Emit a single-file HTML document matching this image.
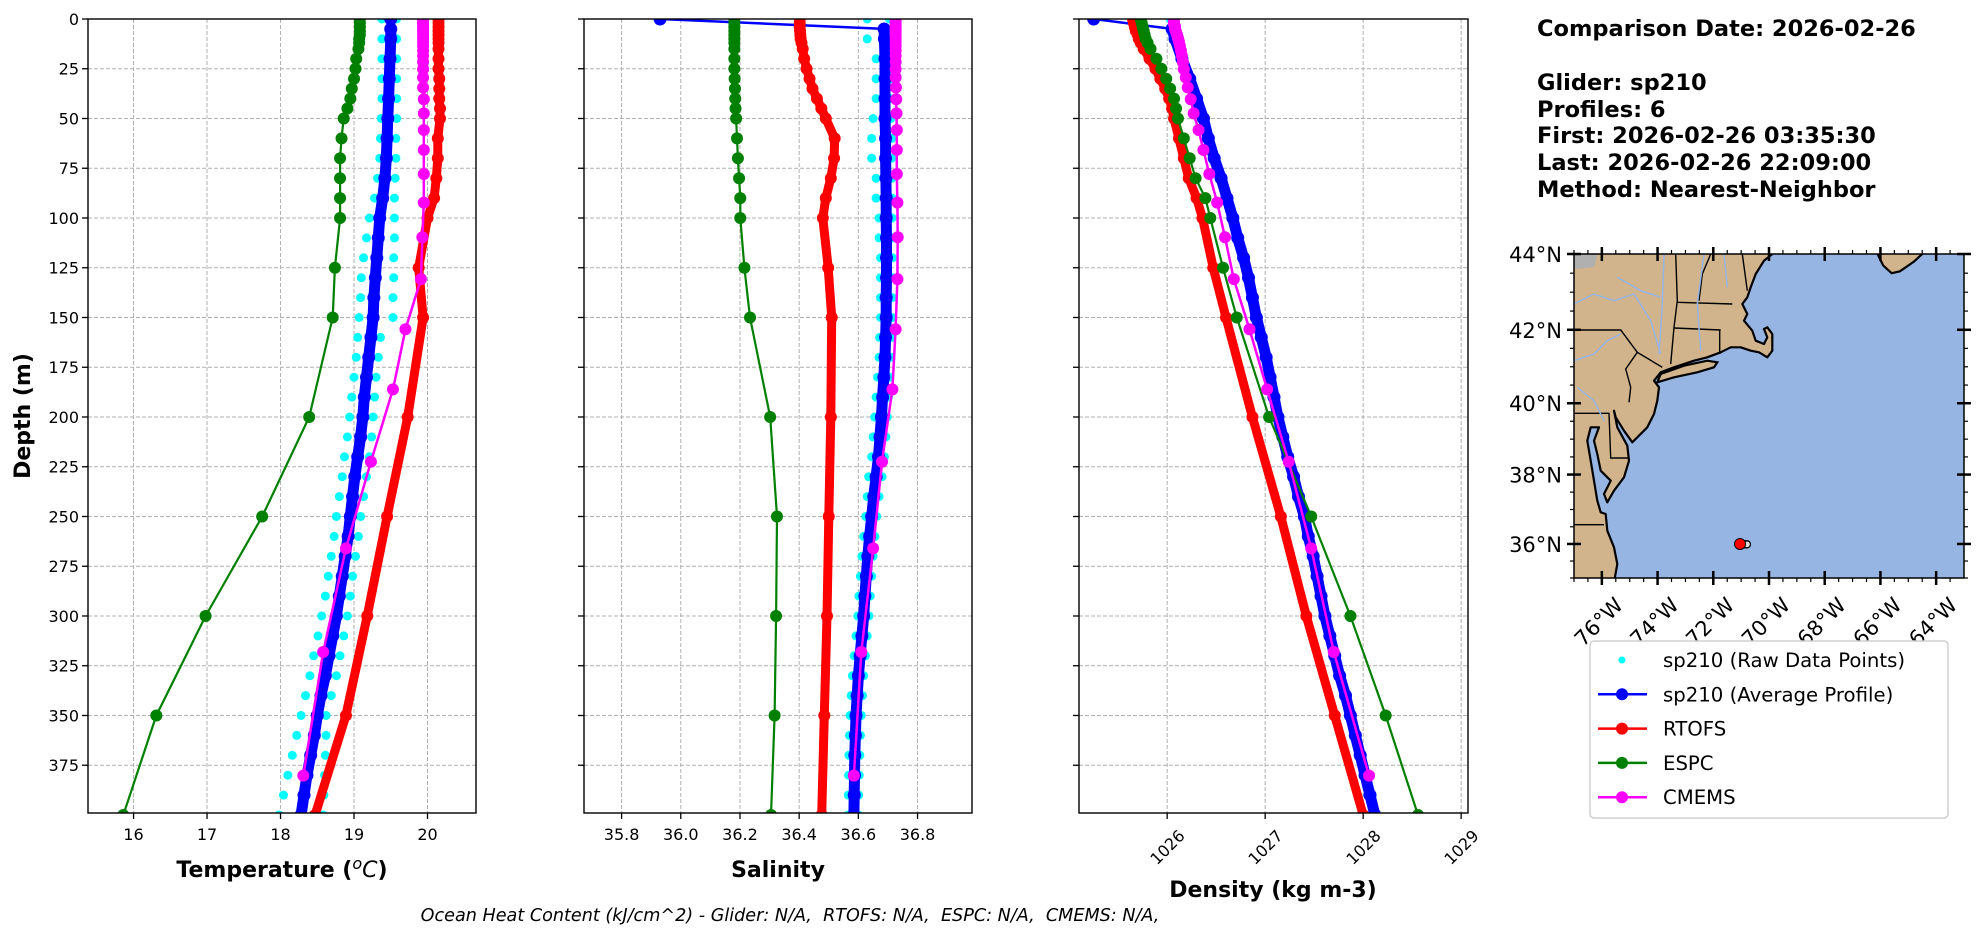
<!DOCTYPE html>
<html><head><meta charset="utf-8"><style>
html,body{margin:0;padding:0;background:#fff;}
svg{display:block;font-family:"DejaVu Sans","Liberation Sans",sans-serif;}
</style></head><body>
<svg id="fig" width="1979" height="934" viewBox="0 0 1979 934" xmlns="http://www.w3.org/2000/svg">
<defs>
<clipPath id="c0"><rect x="88" y="19" width="388" height="794"/></clipPath>
<clipPath id="c1"><rect x="584" y="19" width="388" height="794"/></clipPath>
<clipPath id="c2"><rect x="1079" y="19" width="389" height="794"/></clipPath>
<clipPath id="cm"><rect x="1574" y="254" width="390" height="324"/></clipPath>
</defs>
<g id="layer"></g>
<text x="0" y="0" transform="translate(30,416) rotate(-90)" text-anchor="middle" font-size="22" font-weight="bold">Depth (m)</text>
<text x="282" y="877" text-anchor="middle" font-size="22" font-weight="bold">Temperature (<tspan font-style="italic" font-weight="normal" dy="-8" font-size="16">o</tspan><tspan dy="8" font-style="italic" font-weight="normal">C</tspan>)</text>
<text x="778" y="877" text-anchor="middle" font-size="22" font-weight="bold">Salinity</text>
<text x="1273" y="897" text-anchor="middle" font-size="22" font-weight="bold">Density (kg m-3)</text>
<text x="790" y="921" text-anchor="middle" font-size="17.6" font-style="italic" style="white-space:pre">Ocean Heat Content (kJ/cm^2) - Glider: N/A,  RTOFS: N/A,  ESPC: N/A,  CMEMS: N/A,</text>
<g font-size="22.5" font-weight="bold">
<text x="1537" y="36">Comparison Date: 2026-02-26</text>
<text x="1537" y="90">Glider: sp210</text>
<text x="1537" y="117">Profiles: 6</text>
<text x="1537" y="143">First: 2026-02-26 03:35:30</text>
<text x="1537" y="170">Last: 2026-02-26 22:09:00</text>
<text x="1537" y="197">Method: Nearest-Neighbor</text>
</g>
</svg>
<script>
// ---------- data ----------
const gliderDepth=[0,5,10,20,30,40,50,60,70,80,90,100,110,120,130,140,150,160,170,180,190,200,210,220,230,240,250,260,270,280,290,300,310,320,330,340,350,360,370,380,390,400];
const gliderTemp=[19.50,19.50,19.50,19.49,19.48,19.47,19.46,19.45,19.44,19.42,19.39,19.35,19.33,19.31,19.29,19.27,19.26,19.23,19.20,19.17,19.14,19.12,19.09,19.05,19.01,18.98,18.95,18.92,18.88,18.84,18.80,18.76,18.71,18.66,18.61,18.55,18.50,18.46,18.41,18.36,18.32,18.28];
const gliderSal=[35.93,36.687,36.688,36.69,36.69,36.69,36.69,36.692,36.692,36.693,36.694,36.694,36.695,36.695,36.695,36.694,36.694,36.692,36.69,36.686,36.682,36.678,36.673,36.668,36.66,36.652,36.645,36.638,36.632,36.627,36.622,36.618,36.612,36.606,36.6,36.596,36.592,36.59,36.588,36.587,36.586,36.585];
const gliderDens=[1025.25,1026.05,1026.08,1026.15,1026.23,1026.30,1026.37,1026.42,1026.48,1026.55,1026.61,1026.67,1026.72,1026.78,1026.83,1026.87,1026.91,1026.96,1027.01,1027.05,1027.09,1027.13,1027.18,1027.23,1027.29,1027.34,1027.40,1027.44,1027.49,1027.53,1027.57,1027.61,1027.66,1027.71,1027.76,1027.82,1027.87,1027.92,1027.97,1028.02,1028.07,1028.12];
const rawDepth=[0,10,20,30,40,50,60,70,80,90,100,110,120,130,140,150,160,170,180,190,200,210,220,230,240,250,260,270,280,290,300,310,320,330,340,350,360,370,380,390,400];
const rawTempA=[19.38,19.38,19.38,19.38,19.38,19.37,19.36,19.35,19.32,19.28,19.21,19.17,19.13,19.10,19.09,19.07,19.05,19.03,19.00,18.97,18.94,18.91,18.87,18.84,18.80,18.76,18.73,18.69,18.65,18.61,18.56,18.51,18.45,18.40,18.34,18.28,18.22,18.16,18.10,18.04,17.98];
const rawTempB=[19.58,19.58,19.58,19.58,19.58,19.58,19.57,19.57,19.56,19.55,19.55,19.55,19.54,19.54,19.53,19.53,19.36,19.33,19.30,19.28,19.26,19.24,19.21,19.17,19.13,19.09,19.06,19.02,18.98,18.95,18.91,18.86,18.81,18.76,18.69,18.62,18.62,18.61,18.60,18.59,18.58];
const rawSalA=[36.63,36.63,36.66,36.66,36.66,36.65,36.645,36.645,36.66,36.66,36.67,36.67,36.675,36.675,36.675,36.675,36.672,36.67,36.665,36.66,36.655,36.65,36.645,36.635,36.63,36.625,36.618,36.612,36.607,36.602,36.598,36.592,36.586,36.58,36.576,36.572,36.57,36.568,36.567,36.566,36.565];
const rawSalB=[36.705,36.707,36.71,36.71,36.71,36.71,36.712,36.712,36.713,36.714,36.714,36.715,36.715,36.715,36.714,36.714,36.712,36.71,36.706,36.702,36.698,36.693,36.688,36.68,36.67,36.662,36.656,36.65,36.645,36.64,36.636,36.63,36.624,36.618,36.614,36.61,36.607,36.605,36.603,36.601,36.6];
const rawDensA=[1026.03,1026.06,1026.13,1026.21,1026.28,1026.35,1026.40,1026.46,1026.53,1026.59,1026.65,1026.70,1026.76,1026.81,1026.85,1026.89,1026.94,1026.99,1027.03,1027.07,1027.11,1027.16,1027.21,1027.27,1027.32,1027.38,1027.42,1027.47,1027.51,1027.55,1027.59,1027.64,1027.69,1027.74,1027.80,1027.85,1027.90,1027.95,1028.00,1028.05,1028.10];
const rawDensB=[1026.07,1026.10,1026.17,1026.25,1026.32,1026.39,1026.44,1026.50,1026.57,1026.63,1026.69,1026.74,1026.80,1026.85,1026.89,1026.93,1026.98,1027.03,1027.07,1027.11,1027.15,1027.20,1027.25,1027.31,1027.36,1027.42,1027.46,1027.51,1027.55,1027.59,1027.63,1027.68,1027.73,1027.78,1027.84,1027.89,1027.94,1027.99,1028.04,1028.09,1028.14];
const modelDepth=[0,2,4,6,8,10,12,15,20,25,30,35,40,45,50,60,70,80,90,100,125,150,200,250,300,350,400];
const rtofsTemp=[20.15,20.15,20.15,20.15,20.15,20.15,20.15,20.15,20.15,20.15,20.16,20.16,20.16,20.17,20.17,20.14,20.14,20.12,20.09,20.00,19.88,19.94,19.73,19.45,19.18,18.89,18.47];
const rtofsSal=[36.402,36.402,36.402,36.403,36.404,36.405,36.408,36.412,36.417,36.425,36.435,36.445,36.46,36.475,36.49,36.52,36.518,36.507,36.49,36.48,36.498,36.51,36.507,36.50,36.494,36.485,36.476];
const rtofsDens=[1025.65,1025.66,1025.67,1025.68,1025.70,1025.71,1025.73,1025.76,1025.82,1025.88,1025.93,1025.98,1026.02,1026.05,1026.07,1026.12,1026.17,1026.22,1026.30,1026.36,1026.47,1026.60,1026.87,1027.16,1027.42,1027.71,1028.00];
const espcTemp=[19.08,19.08,19.08,19.08,19.08,19.07,19.07,19.06,19.03,19.02,19.00,18.97,18.95,18.91,18.86,18.83,18.81,18.81,18.81,18.81,18.74,18.71,18.39,17.75,16.98,16.31,15.86];
const espcSal=[36.181,36.181,36.181,36.181,36.181,36.181,36.181,36.181,36.181,36.181,36.182,36.183,36.184,36.185,36.187,36.19,36.193,36.197,36.201,36.201,36.215,36.234,36.302,36.325,36.322,36.317,36.305];
const espcDens=[1025.73,1025.74,1025.75,1025.76,1025.77,1025.78,1025.80,1025.83,1025.89,1025.94,1025.99,1026.03,1026.07,1026.09,1026.11,1026.17,1026.23,1026.29,1026.39,1026.44,1026.57,1026.71,1027.04,1027.47,1027.87,1028.23,1028.56];
const cmemsDepth=[0.5,1.5,2.6,3.8,5.1,6.4,7.9,9.6,11.4,13.5,15.8,18.5,21.6,25.2,29.4,34.4,40.3,47.4,55.8,65.8,77.9,92.3,109.7,130.7,155.9,186.1,222.5,266.0,318.1,380.2];
const cmemsTemp=[19.94,19.94,19.94,19.94,19.94,19.94,19.94,19.94,19.94,19.94,19.94,19.94,19.94,19.94,19.94,19.94,19.95,19.95,19.95,19.95,19.95,19.95,19.93,19.91,19.70,19.53,19.23,18.89,18.58,18.31];
const cmemsSal=[36.726,36.726,36.726,36.726,36.726,36.726,36.726,36.726,36.726,36.726,36.726,36.726,36.726,36.726,36.726,36.727,36.728,36.729,36.73,36.73,36.73,36.732,36.733,36.732,36.726,36.715,36.68,36.65,36.61,36.585];
const cmemsDens=[1026.07,1026.07,1026.07,1026.08,1026.08,1026.09,1026.10,1026.11,1026.12,1026.13,1026.14,1026.15,1026.16,1026.17,1026.19,1026.21,1026.24,1026.27,1026.32,1026.37,1026.43,1026.51,1026.59,1026.68,1026.84,1027.02,1027.24,1027.47,1027.70,1028.06];
const depthTicks=[0,25,50,75,100,125,150,175,200,225,250,275,300,325,350,375];
const tempTicks=[16,17,18,19,20];
const salTicks=[35.8,36.0,36.2,36.4,36.6,36.8];
const salTickLabels=["35.8","36.0","36.2","36.4","36.6","36.8"];
const densTicks=[1026,1027,1028,1029];
const latTicks=[44,42,40,38,36];
const lonTicks=[-76,-74,-72,-70,-68,-66,-64];
const gliderTrackLon=[-71.04,-70.94,-70.88,-70.83,-70.79];
const gliderTrackLat=[36.0,35.99,35.99,35.99,35.99];

// ---------- helpers ----------
const NS="http://www.w3.org/2000/svg";
const layer=document.getElementById('layer');
function mk(tag,attrs,parent){const e=document.createElementNS(NS,tag);for(const k in attrs)e.setAttribute(k,attrs[k]);(parent||layer).appendChild(e);return e;}
const Y0=19,Y1=813,DMAX=399;
function yDepth(d){return Y0+d/DMAX*(Y1-Y0);}
const panels=[
 {name:'temperature',x0:88,x1:476,min:15.38,max:20.66,clip:'c0'},
 {name:'salinity',x0:584,x1:972,min:35.673,max:36.984,clip:'c1'},
 {name:'density',x0:1079,x1:1468,min:1025.10,max:1029.07,clip:'c2'}];
function xs(p,v){return p.x0+(v-p.min)/(p.max-p.min)*(p.x1-p.x0);}

panels.forEach((p,pi)=>{
  const g=mk('g',{});
  
  
  const ticks=pi===0?tempTicks:pi===1?salTicks:densTicks;
  ticks.forEach(t=>{const l=mk('line',{x1:xs(p,t),x2:xs(p,t),y1:Y0,y2:Y1,stroke:'#b0b0b0','stroke-width':1,'stroke-dasharray':'4,2'},g);
    
    });
  depthTicks.forEach(t=>{const l=mk('line',{x1:p.x0,x2:p.x1,y1:yDepth(t),y2:yDepth(t),stroke:'#b0b0b0','stroke-width':1,'stroke-dasharray':'4,2'},g);
    
    });
  depthTicks.forEach(t=>{
    const tk=mk('line',{x1:p.x0-6,x2:p.x0,y1:yDepth(t),y2:yDepth(t),stroke:'#000','stroke-width':1.3},g);
    
    
    if(pi===0){const tx=mk('text',{x:p.x0-9,y:yDepth(t)+6,'text-anchor':'end','font-size':16},g);tx.textContent=String(t);
      
      }
  });
  ticks.forEach((t,i)=>{
    const x=xs(p,t);
    const tk=mk('line',{x1:x,x2:x,y1:Y1,y2:Y1+6,stroke:'#000','stroke-width':1.3},g);
    
    
    let tx;
    if(pi===2){tx=mk('text',{x:0,y:0,'text-anchor':'middle','font-size':16,transform:`translate(${x},${Y1+34}) rotate(-45) translate(0,6)`},g);}
    else{tx=mk('text',{x:x,y:Y1+27,'text-anchor':'middle','font-size':16},g);}
    tx.textContent=pi===1?salTickLabels[i]:String(t);
    
    
  });
  const sg=mk('g',{'clip-path':`url(#${p.clip})`},g);
  
  
  const rawA=pi===0?rawTempA:pi===1?rawSalA:rawDensA;
  const rawB=pi===0?rawTempB:pi===1?rawSalB:rawDensB;
  [rawA,rawB].forEach(arr=>arr.forEach((v,i)=>{const c=mk('circle',{cx:xs(p,v),cy:yDepth(rawDepth[i]),r:4.5,fill:'#00ffff'},sg);
    
    }));
  function series(depths,vals,color,lw,r,name,under){
    const pts=vals.map((v,i)=>xs(p,v).toFixed(1)+','+yDepth(depths[i]).toFixed(1));
    if(under){
      const ul=mk('polyline',{points:pts.slice(1).join(' '),fill:'none',stroke:color,'stroke-width':under,'stroke-linejoin':'round','stroke-linecap':'round'},sg);
      
      
    }
    const pl=mk('polyline',{points:pts.join(' '),fill:'none',stroke:color,'stroke-width':lw,'stroke-linejoin':'round','stroke-linecap':'round'},sg);
    
    
    vals.forEach((v,i)=>{const c=mk('circle',{cx:xs(p,v),cy:yDepth(depths[i]),r:r,fill:color},sg);
      
      });
  }
  series(gliderDepth,pi===0?gliderTemp:pi===1?gliderSal:gliderDens,'#0000ff',2.5,6.5,'glider-average',11);
  series(modelDepth,pi===0?rtofsTemp:pi===1?rtofsSal:rtofsDens,'#ff0000',9,6,'rtofs',0);
  series(modelDepth,pi===0?espcTemp:pi===1?espcSal:espcDens,'#008000',2.2,6,'espc',0);
  series(cmemsDepth,pi===0?cmemsTemp:pi===1?cmemsSal:cmemsDens,'#ff00ff',2.5,6,'cmems',0);
  const fr=mk('rect',{x:p.x0,y:Y0,width:p.x1-p.x0,height:Y1-Y0,fill:'none',stroke:'#000','stroke-width':1.4},g);
  
  
});

// ---------- map ----------
const MX0=1574,MX1=1964,MY0=254,MY1=578,LON0=-77,LON1=-63,LAT0=35,LAT1=44;
function merc(l){return Math.log(Math.tan(Math.PI/4+l*Math.PI/360));}
function mx(lon){return MX0+(lon-LON0)/(LON1-LON0)*(MX1-MX0);}
function my(lat){return MY0+(merc(LAT1)-merc(lat))/(merc(LAT1)-merc(LAT0))*(MY1-MY0);}
// map outline geometry traced in local map pixel units (x3)
function zp(pts,close){return pts.map((q,i)=>(i?'L':'M')+(MX0+q[0]/3).toFixed(1)+','+(MY0+q[1]/3).toFixed(1)).join('')+(close?'Z':'');}
function lp(pts,close){return pts.map((q,i)=>(i?'L':'M')+mx(q[0]).toFixed(1)+','+my(q[1]).toFixed(1)).join('')+(close?'Z':'');}
const mapG=mk('g',{});


const mc=mk('g',{'clip-path':'url(#cm)'},mapG);
const ocean=mk('rect',{x:MX0,y:MY0,width:MX1-MX0,height:MY1-MY0,fill:'#97b5e2'},mc);


const coast=[[-10,-10],[600,-10],[595,0],[570,20],[545,60],[530,100],[520,130],[505,150],[520,180],[510,200],[535,230],[545,260],[570,270],[580,250],[570,225],[580,220],[595,240],[595,290],[580,310],[555,295],[530,290],[500,280],[470,280],[440,295],[400,310],[360,320],[300,340],[260,355],[240,380],[255,400],[250,440],[240,480],[220,520],[190,550],[175,565],[150,530],[125,490],[120,470],[130,520],[160,575],[165,620],[150,670],[120,710],[100,745],[90,720],[110,680],[80,650],[70,600],[60,560],[75,520],[50,520],[40,560],[50,620],[60,680],[70,740],[80,775],[95,780],[100,830],[120,880],[130,930],[120,985],[-10,985]];
const land=mk('path',{d:zp(coast,true),fill:'#d2b48c',stroke:'#000','stroke-width':2.2,'stroke-linejoin':'round'},mc);


const li=mk('path',{d:zp([[260,360],[330,335],[400,320],[430,325],[420,340],[370,355],[300,370],[250,385]],true),fill:'#d2b48c',stroke:'#000','stroke-width':2.2},mc);


const ns=mk('path',{d:lp([[-66.2,44.5],[-66.1,44],[-65.9,43.7],[-65.6,43.5],[-65.3,43.55],[-64.8,43.8],[-64.5,44.0],[-64.4,44.5]],true),fill:'#d2b48c',stroke:'#000','stroke-width':2.2},mc);


const lake=mk('path',{d:zp([[-5,-5],[72,-5],[60,40],[0,45]],true),fill:'#b0b0b0'},mc);


const borders=[
 [[0,228],[140,228],[190,295],[265,340]],
 [[190,295],[155,345],[170,400],[165,445]],
 [[305,0],[310,140],[300,220],[290,330]],
 [[310,145],[475,150]],
 [[300,222],[440,228]],
 [[437,228],[437,300]],
 [[410,0],[385,60],[375,140]],
 [[505,0],[520,110]],
 [[0,478],[105,478],[110,612],[165,612]],
 [[0,812],[90,812]]];
borders.forEach(b=>{const e=mk('path',{d:zp(b,false),fill:'none',stroke:'#000','stroke-width':1.4},mc);
  
  });
[[[0,150],[60,120],[120,140],[180,120],[230,200],[260,300]],[[130,70],[200,110],[260,130]],[[270,0],[265,150],[255,300]],[[390,0],[370,150],[380,290]],[[450,0],[460,100]],[[0,320],[60,300],[100,260],[140,240]],[[10,400],[60,440],[90,500]]].forEach(r=>{
  const e=mk('path',{d:zp(r,false),fill:'none',stroke:'#97b5e2','stroke-width':1.5},mc);
  
  });
gliderTrackLon.forEach((lon,i)=>{if(i===0)return;
  const c=mk('circle',{cx:mx(lon),cy:my(gliderTrackLat[i]),r:3.5,fill:'#ddd',stroke:'#000','stroke-width':1.3},mc);
  
  });
const gp=mk('circle',{cx:mx(gliderTrackLon[0]),cy:my(gliderTrackLat[0]),r:5.5,fill:'#ff0000',stroke:'#000','stroke-width':1},mc);


const mf=mk('rect',{x:MX0,y:MY0,width:MX1-MX0,height:MY1-MY0,fill:'none',stroke:'#000','stroke-width':1.5},mapG);


for(let lon=-77;lon<=-63.01;lon+=0.5){[MY0,MY1].forEach(yy=>{const t=mk('line',{x1:mx(lon),x2:mx(lon),y1:yy,y2:yy===MY1?yy+4:yy-4,stroke:'#000','stroke-width':1.2},mapG);
  
  });}
for(let lat=35;lat<=44.01;lat+=0.5){[MX0,MX1].forEach(xx=>{const t=mk('line',{x1:xx,x2:xx===MX0?xx-4:xx+4,y1:my(lat),y2:my(lat),stroke:'#000','stroke-width':1.2},mapG);
  
  });}
latTicks.forEach(lat=>{const y=my(lat);
  [MX0,MX1].forEach(xx=>{const t=mk('line',{x1:xx-7,x2:xx+7,y1:y,y2:y,stroke:'#000','stroke-width':2.5},mapG);
    
    });
  const tx=mk('text',{x:MX0-12,y:y+8,'text-anchor':'end','font-size':21},mapG);tx.textContent=lat+'°N';
  
  });
lonTicks.forEach(lon=>{const x=mx(lon);
  [MY0,MY1].forEach(yy=>{const t=mk('line',{x1:x,x2:x,y1:yy-7,y2:yy+7,stroke:'#000','stroke-width':2.5},mapG);
    
    });
  const tx=mk('text',{x:0,y:0,'text-anchor':'middle','font-size':21,transform:`translate(${x-3},${MY1+44}) rotate(-45) translate(0,7)`},mapG);tx.textContent=Math.abs(lon)+'°W';
  
  });

// ---------- legend ----------
const lg=mk('g',{});


mk('rect',{x:1590,y:641,width:358,height:177,rx:4,fill:'#fff',stroke:'#d0d0d0','stroke-width':1.5},lg);
const legNames=['sp210 (Raw Data Points)','sp210 (Average Profile)','RTOFS','ESPC','CMEMS'];
const legColors=['#00ffff','#0000ff','#ff0000','#008000','#ff00ff'];
legNames.forEach((n,i)=>{const y=660+i*34.3;
  const e=mk('g',{},lg);
  
  
  if(i>0)mk('line',{x1:1598,x2:1647,y1:y,y2:y,stroke:legColors[i],'stroke-width':2.5},e);
  mk('circle',{cx:1622,cy:y,r:i===0?3.5:6,fill:legColors[i]},e);
  const t=mk('text',{x:1663,y:y+7,'font-size':19.7},e);t.textContent=n;});
</script>
</body></html>
